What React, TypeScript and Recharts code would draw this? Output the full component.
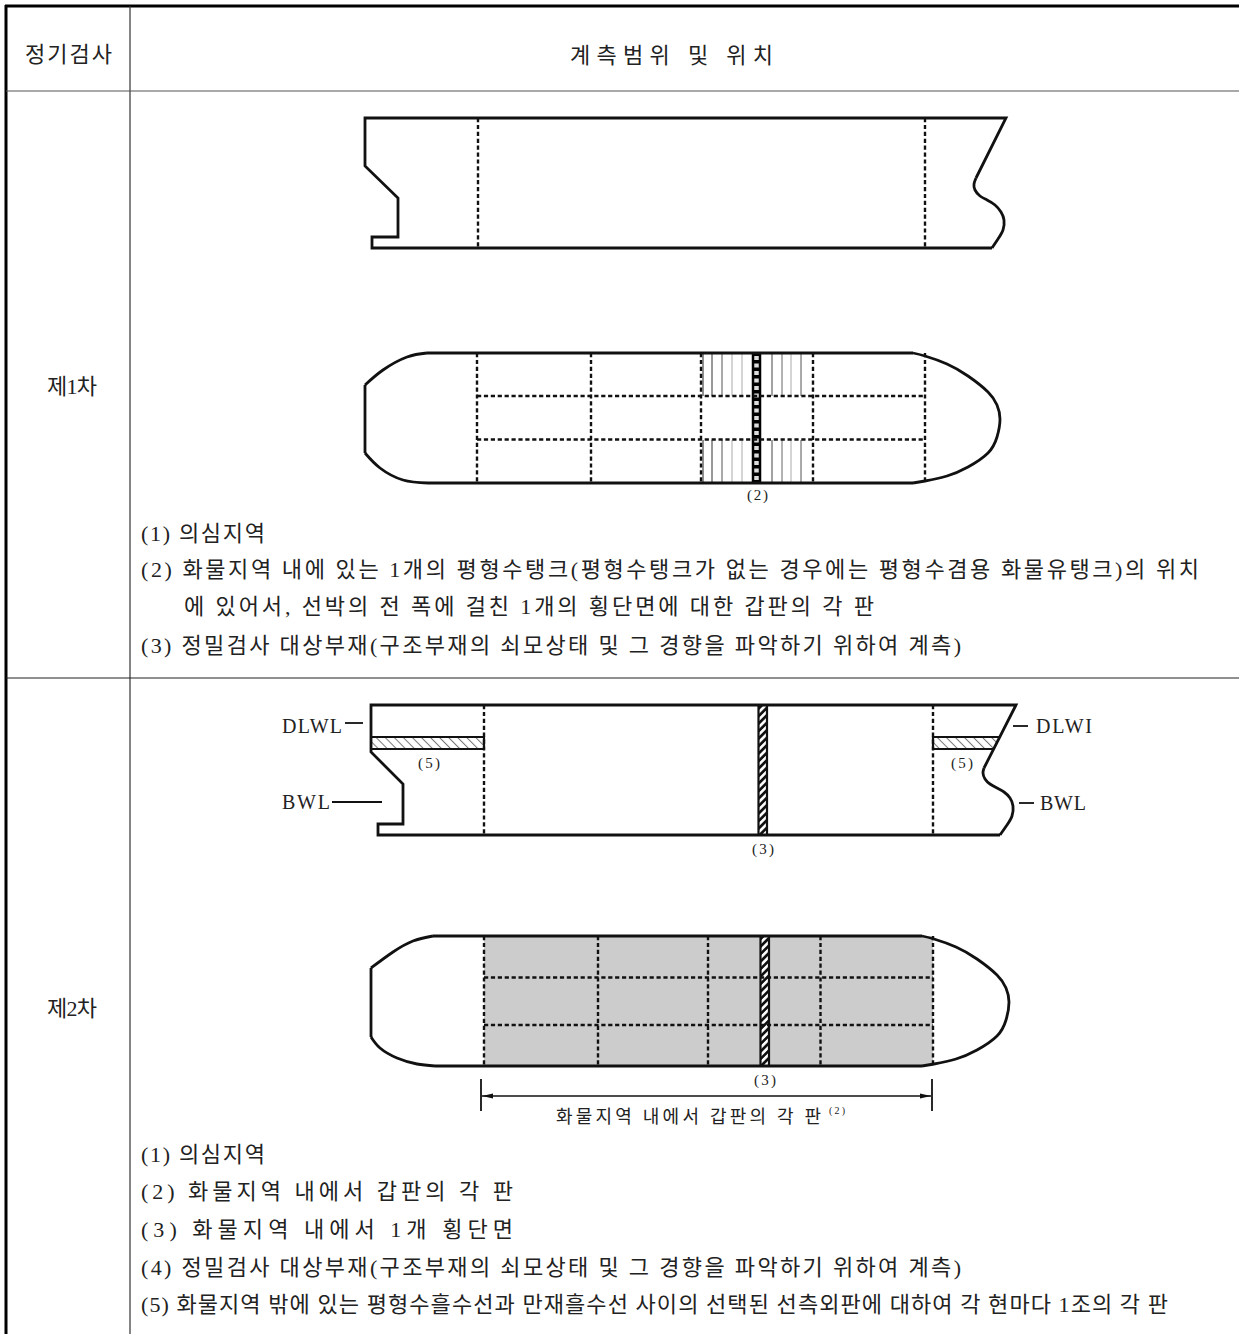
import { Area, ComposedChart, Line, Scatter, XAxis, YAxis } from "recharts"

type Pair = [number, number]

const toPoints = (pairs: Pair[]) => pairs.map(([x, y]) => ({ x, y }))

// table rules
const tableTop: Pair[] = [[5, 6], [1239, 6]]
const tableLeft: Pair[] = [[6, 5], [6, 1334]]
const tableDivider: Pair[] = [[130, 6], [130, 1334]]
const headerRule: Pair[] = [[6, 91], [1239, 91]]
const rowRule: Pair[] = [[6, 678], [1239, 678]]

// first survey, side view
const side1Hull: Pair[] = [[976, 178], [1006, 118], [365, 118], [365, 166], [398, 198], [398, 237], [372, 237], [372, 248], [992, 248]]
const side1Bow: Pair[] = [[976, 178], [974, 184], [975, 190], [980, 196], [987, 200], [995, 205], [1001, 212], [1004, 220], [1003, 230], [998, 239], [992, 248]]
const side1Dashes: Pair[][] = [
  [[478, 118], [478, 248]],
  [[925, 118], [925, 248]],
]

// first survey, plan view
const plan1Straight: Pair[][] = [
  [[427, 353], [913, 353]],
  [[428, 483], [913, 483]],
  [[365, 385], [365, 453]],
]
const plan1Curves: Pair[][] = [
  [[365, 385], [383, 370], [407, 357], [427, 353]],
  [[365, 453], [380, 468], [403, 480], [428, 483]],
  [[913, 353], [925, 356], [947, 364], [968, 376], [988, 392], [997, 405], [1000, 419], [997, 437], [988, 453], [968, 467], [947, 476], [925, 481], [913, 483]],
]
const plan1Dashes: Pair[][] = [
  [[477, 353], [477, 483]],
  [[591, 353], [591, 483]],
  [[701, 353], [701, 483]],
  [[813, 353], [813, 483]],
  [[925, 353], [925, 483]],
  [[477, 396], [925, 396]],
  [[477, 439.5], [925, 439.5]],
]
const plan1Ribs = [703, 712, 722, 732, 742, 772, 782, 791, 801]
const plan1RibColors = ["#222", "#333", "#555", "#aaa", "#aaa", "#444", "#666", "#aaa", "#555"]
const plan1BarX = 756.5
const plan1BarY: Pair = [353, 483]

// second survey, side view
const side2Hull: Pair[] = [[984, 768], [1016, 705], [371, 705], [371, 752], [403, 784], [403, 824], [378, 824], [378, 835], [1000, 835]]
const side2Bow: Pair[] = [[984, 768], [983, 773], [985, 779], [990, 784], [997, 788], [1004, 792], [1010, 798], [1013, 806], [1012, 816], [1007, 825], [1000, 835]]
const side2Dashes: Pair[][] = [
  [[484, 705], [484, 835]],
  [[933, 705], [933, 835]],
]
const leftStrip = [
  { x: 371, y: [737, 749] },
  { x: 484, y: [737, 749] },
]
const rightStrip = [
  { x: 933, y: [737, 749] },
  { x: 993, y: [737, 749] },
  { x: 998.5, y: [737, 737] },
]
const stripOutlines: Pair[][] = [
  [[371, 737], [484, 737], [484, 749], [371, 749]],
  [[999, 737], [933, 737], [933, 749], [993, 749]],
]
const side2Bar = [
  { x: 758.5, y: [705, 835] },
  { x: 767, y: [705, 835] },
]
const waterMarks: Pair[][] = [
  [[345, 723], [363, 723]],
  [[332, 802], [382, 802]],
  [[1013, 726], [1028, 726]],
  [[1019, 803], [1034, 803]],
]

// second survey, plan view
const cargoShade = [
  { x: 484, y: [936, 1066] },
  { x: 933, y: [936, 1066] },
]
const plan2Bar = [
  { x: 760.5, y: [936, 1066] },
  { x: 769, y: [936, 1066] },
]
const plan2Straight: Pair[][] = [
  [[433, 936], [922, 936]],
  [[435, 1066], [922, 1066]],
  [[371, 968], [371, 1037]],
]
const plan2Curves: Pair[][] = [
  [[371, 968], [393, 952], [413, 941], [433, 936]],
  [[371, 1037], [380, 1048], [397, 1058], [417, 1064], [435, 1066]],
  [[922, 936], [934, 939], [956, 947], [977, 959], [997, 975], [1006, 988], [1009, 1002], [1006, 1020], [997, 1036], [977, 1050], [956, 1059], [934, 1064], [922, 1066]],
]
const plan2Dashes: Pair[][] = [
  [[484, 936], [484, 1066]],
  [[598, 936], [598, 1066]],
  [[708, 936], [708, 1066]],
  [[820.5, 936], [820.5, 1066]],
  [[933, 936], [933, 1066]],
  [[484, 977.5], [933, 977.5]],
  [[484, 1025], [933, 1025]],
]
const barEdges: Pair[][] = [
  [[758.5, 705], [758.5, 835], [767, 835], [767, 705], [758.5, 705]],
  [[760.5, 936], [760.5, 1066], [769, 1066], [769, 936], [760.5, 936]],
]

// dimension line under the plan view
const dimLine: Pair[] = [[482, 1096], [931, 1096]]
const dimTicks: Pair[][] = [
  [[481, 1079], [481, 1111]],
  [[932, 1079], [932, 1111]],
]
const arrowLeft = [
  { x: 482, y: [1096, 1096] },
  { x: 493, y: [1093.5, 1098.5] },
]
const arrowRight = [
  { x: 920, y: [1093.5, 1098.5] },
  { x: 931, y: [1096, 1096] },
]

const bodyLabels = [
  { x: 25, y: 54, w: 87, text: "정기검사" },
  { x: 570, y: 55, w: 203, text: "계측범위 및 위치" },
  { x: 47, y: 386, w: 50, text: "제1차" },
  { x: 47, y: 1008, w: 50, text: "제2차" },
  { x: 141, y: 533, w: 124, text: "(1) 의심지역" },
  { x: 141, y: 569, w: 1058, text: "(2) 화물지역 내에 있는 1개의 평형수탱크(평형수탱크가 없는 경우에는 평형수겸용 화물유탱크)의 위치" },
  { x: 184, y: 606, w: 690, text: "에 있어서, 선박의 전 폭에 걸친 1개의 횡단면에 대한 갑판의 각 판" },
  { x: 141, y: 645, w: 820, text: "(3) 정밀검사 대상부재(구조부재의 쇠모상태 및 그 경향을 파악하기 위하여 계측)" },
  { x: 141, y: 1154, w: 124, text: "(1) 의심지역" },
  { x: 141, y: 1191, w: 372, text: "(2) 화물지역 내에서 갑판의 각 판" },
  { x: 141, y: 1229, w: 372, text: "(3) 화물지역 내에서 1개 횡단면" },
  { x: 141, y: 1267, w: 820, text: "(4) 정밀검사 대상부재(구조부재의 쇠모상태 및 그 경향을 파악하기 위하여 계측)" },
  { x: 141, y: 1304, w: 1027, text: "(5) 화물지역 밖에 있는 평형수흘수선과 만재흘수선 사이의 선택된 선측외판에 대하여 각 현마다 1조의 각 판" },
]
const waterLabels = [
  { x: 282, y: 726, w: 60, text: "DLWL" },
  { x: 282, y: 802, w: 48, text: "BWL" },
  { x: 1036, y: 726, w: 56, text: "DLWI" },
  { x: 1040, y: 803, w: 46, text: "BWL" },
]
const captionLabels = [{ x: 556, y: 1117, w: 265, text: "화물지역 내에서 갑판의 각 판" }]
const noteLabels = [
  { x: 747, y: 495, w: 21, text: "(2)" },
  { x: 418, y: 763, w: 22, text: "(5)" },
  { x: 951, y: 763, w: 22, text: "(5)" },
  { x: 752, y: 849, w: 22, text: "(3)" },
  { x: 754, y: 1080, w: 22, text: "(3)" },
]
const superLabels = [{ x: 829, y: 1110, w: 16, text: "(2)" }]

const FONT = '"Liberation Serif", "Noto Sans CJK KR", serif'

const textShape = (size: number) => (props: any) => {
  const { cx, cy, payload } = props
  return (
    <text
      x={cx}
      y={cy}
      fontSize={size}
      fontFamily={FONT}
      fill="#222"
      dominantBaseline="central"
      textLength={payload.w}
      lengthAdjust="spacing"
    >
      {payload.text}
    </text>
  )
}

const stroke = (key: string, pairs: Pair[], color: string, width: number, extra: any = {}) => (
  <Line
    key={key}
    data={toPoints(pairs)}
    dataKey="y"
    type="linear"
    stroke={color}
    strokeWidth={width}
    dot={false}
    activeDot={false}
    isAnimationActive={false}
    legendType="none"
    strokeLinecap="butt"
    strokeLinejoin="miter"
    {...extra}
  />
)

const fillArea = (key: string, data: any[], fill: string) => (
  <Area
    key={key}
    data={data}
    dataKey="y"
    type="linear"
    stroke="none"
    fill={fill}
    fillOpacity={1}
    dot={false}
    activeDot={false}
    isAnimationActive={false}
    legendType="none"
  />
)

const labelSeries = (key: string, data: any[], size: number) => (
  <Scatter key={key} data={data} dataKey="y" shape={textShape(size)} isAnimationActive={false} legendType="none" />
)

const HULL = 2.8
const DASH = { strokeDasharray: "4.2 2.7" }
const DASH_WIDTH = 2.4

export default function App() {
  return (
    <div style={{ position: "absolute", left: 0, top: 0, width: 1239, height: 1334, background: "#fff" }}>
      <ComposedChart width={1239} height={1334} margin={{ top: 0, right: 0, bottom: 0, left: 0 }}>
        <defs>
          <pattern id="thinHatch" width="6.4" height="6.4" patternUnits="userSpaceOnUse" patternTransform="rotate(-45)">
            <rect width="6.4" height="6.4" fill="#fff" />
            <rect width="1" height="6.4" fill="#777" />
          </pattern>
          <pattern id="barHatch" width="5.3" height="5.3" patternUnits="userSpaceOnUse" patternTransform="rotate(45)">
            <rect width="5.3" height="5.3" fill="#111" />
            <rect width="2.6" height="5.3" fill="#fff" />
          </pattern>
        </defs>
        <XAxis type="number" dataKey="x" domain={[0, 1239]} hide allowDataOverflow />
        <YAxis type="number" dataKey="y" domain={[0, 1334]} reversed hide allowDataOverflow width={0} />

        {fillArea("shade", cargoShade, "#cccccc")}
        {fillArea("stripL", leftStrip, "url(#thinHatch)")}
        {fillArea("stripR", rightStrip, "url(#thinHatch)")}
        {fillArea("bar1", side2Bar, "url(#barHatch)")}
        {fillArea("bar2", plan2Bar, "url(#barHatch)")}
        {fillArea("arrowL", arrowLeft, "#111")}
        {fillArea("arrowR", arrowRight, "#111")}

        {stroke("top", tableTop, "#000", 3)}
        {stroke("left", tableLeft, "#000", 3)}
        {stroke("divider", tableDivider, "#333", 1.2)}
        {stroke("header", headerRule, "#555", 1.2)}
        {stroke("row", rowRule, "#222", 1.2)}

        {plan1Ribs.map((x, i) => stroke(`ribT${i}`, [[x, 354], [x, 396]], plan1RibColors[i], 1))}
        {plan1Ribs.map((x, i) => stroke(`ribB${i}`, [[x, 440], [x, 482]], plan1RibColors[i], 1))}
        {stroke("plan1BarOuter", [[plan1BarX, plan1BarY[0]], [plan1BarX, plan1BarY[1]]], "#000", 9.5)}
        {stroke("plan1BarInner", [[plan1BarX, plan1BarY[0] + 3], [plan1BarX, plan1BarY[1]]], "#ddd", 4.5, { strokeDasharray: "4 3.5" })}

        {stroke("side1Hull", side1Hull, "#111", HULL)}
        {stroke("side1Bow", side1Bow, "#111", HULL, { type: "natural" })}
        {side1Dashes.map((p, i) => stroke(`d1${i}`, p, "#111", DASH_WIDTH, DASH))}
        {plan1Dashes.map((p, i) => stroke(`d2${i}`, p, "#111", DASH_WIDTH, DASH))}
        {plan1Straight.map((p, i) => stroke(`s1${i}`, p, "#111", HULL))}
        {plan1Curves.map((p, i) => stroke(`c1${i}`, p, "#111", HULL, { type: "natural" }))}

        {stroke("side2Hull", side2Hull, "#111", HULL)}
        {stroke("side2Bow", side2Bow, "#111", HULL, { type: "natural" })}
        {side2Dashes.map((p, i) => stroke(`d3${i}`, p, "#111", DASH_WIDTH, DASH))}
        {stripOutlines.map((p, i) => stroke(`o${i}`, p, "#111", 2.2))}
        {waterMarks.map((p, i) => stroke(`w${i}`, p, "#111", 1.8))}

        {plan2Dashes.map((p, i) => stroke(`d4${i}`, p, "#111", DASH_WIDTH, DASH))}
        {plan2Straight.map((p, i) => stroke(`s2${i}`, p, "#111", HULL))}
        {plan2Curves.map((p, i) => stroke(`c2${i}`, p, "#111", HULL, { type: "natural" }))}
        {barEdges.map((p, i) => stroke(`b${i}`, p, "#111", 2.2))}

        {stroke("dim", dimLine, "#111", 1.3)}
        {dimTicks.map((p, i) => stroke(`t${i}`, p, "#111", 1.8))}

        {labelSeries("body", bodyLabels, 22)}
        {labelSeries("water", waterLabels, 20)}
        {labelSeries("caption", captionLabels, 18)}
        {labelSeries("note", noteLabels, 15)}
        {labelSeries("super", superLabels, 10)}
      </ComposedChart>
    </div>
  )
}
